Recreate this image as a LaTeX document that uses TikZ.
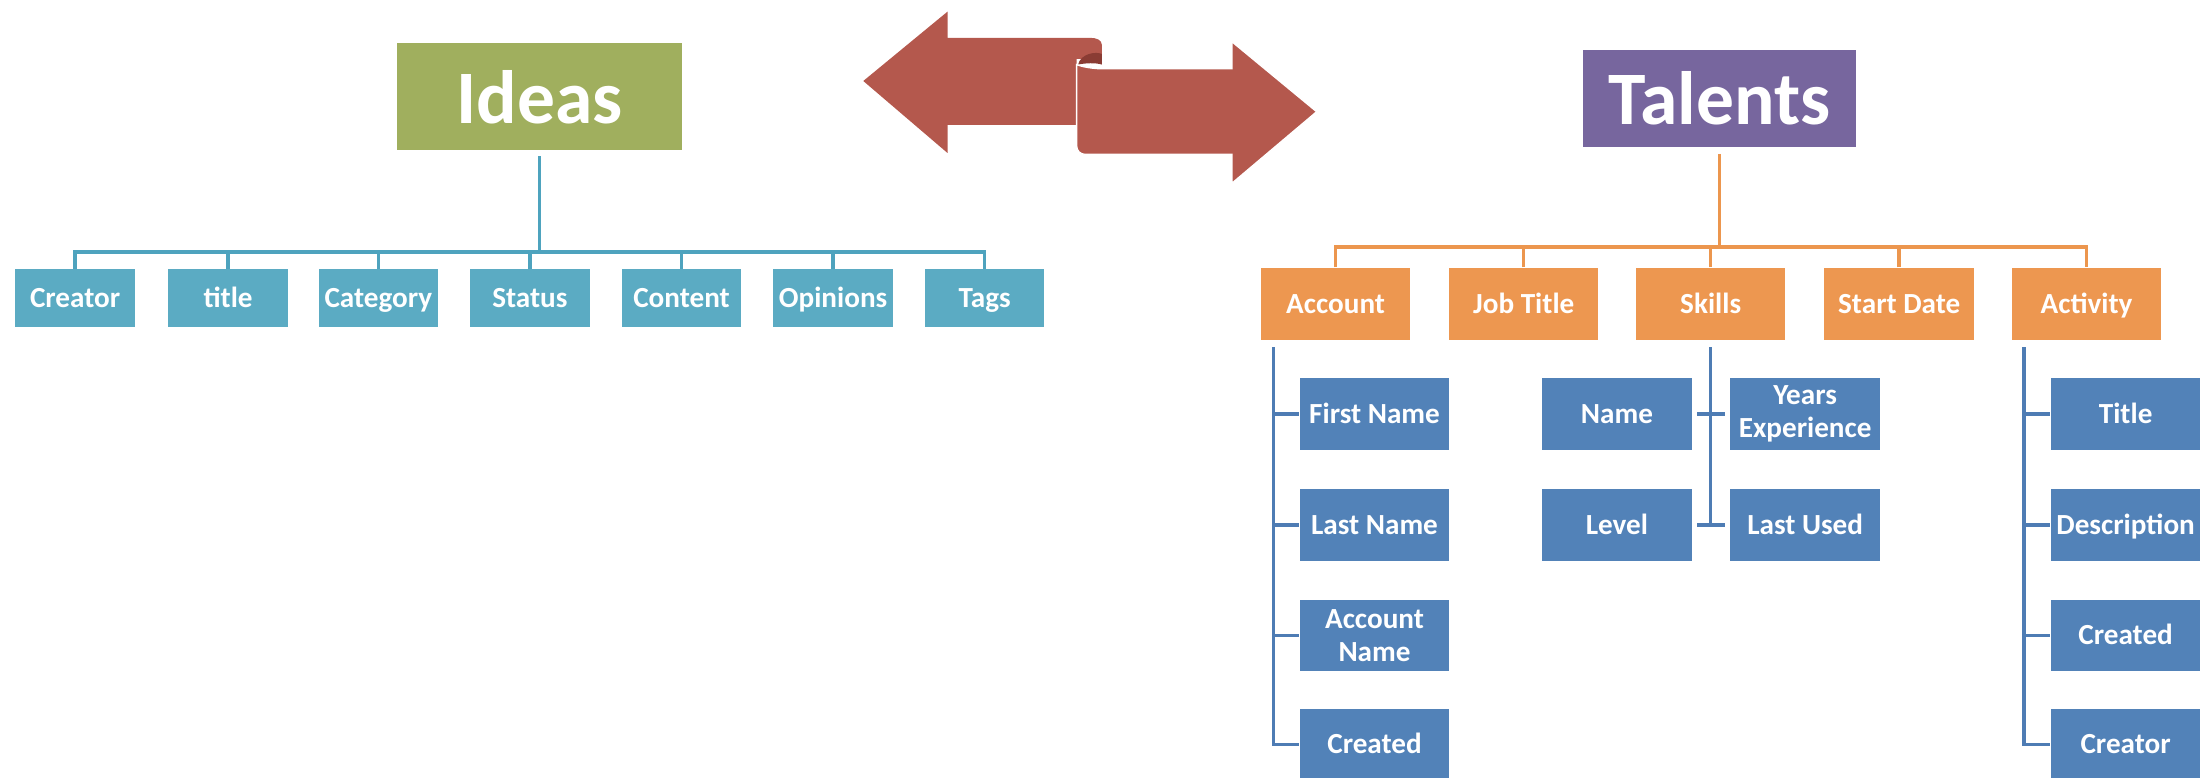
\documentclass[tikz,border=0pt]{standalone}
\usepackage{fontspec}
\setmainfont{Carlito}
\usetikzlibrary{calc}
\definecolor{ideasc}{RGB}{160,175,94}
\definecolor{tealc}{RGB}{91,171,195}
\definecolor{teall}{RGB}{78,163,190}
\definecolor{purplec}{RGB}{119,102,158}
\definecolor{orangec}{RGB}{237,151,80}
\definecolor{orangel}{RGB}{236,150,78}
\definecolor{bluec}{RGB}{82,130,184}
\definecolor{bluel}{RGB}{78,124,180}
\definecolor{arrowred}{RGB}{180,88,77}
\definecolor{curlc}{RGB}{138,60,52}
\begin{document}
\begin{tikzpicture}[x=0.14037mm, y=-0.14037mm,
  box/.style={inner sep=0pt, align=center, text=white, text height=5.6pt, text depth=0.3pt, font=\fontsize{8.3}{9.5}\selectfont\bfseries},
  twoline/.style={text height=, text depth=},
  tealbox/.style={box, fill=tealc, minimum width=11.93mm, minimum height=5.76mm},
  orangebox/.style={box, fill=orangec, minimum width=14.95mm, minimum height=7.16mm},
  bluebox/.style={box, fill=bluec, minimum width=14.95mm, minimum height=7.16mm},
  titlebox/.style={inner sep=0pt, text=white, font=\fontsize{21.5}{24}\selectfont\bfseries},
  tconn/.style={draw=teall, line width=0.35mm},
  oconn/.style={draw=orangel, line width=0.35mm},
  bconn/.style={draw=bluel, line width=0.35mm},
]
\useasboundingbox (0,0) rectangle (1568,554);

% ---------- Ideas ----------
\node[titlebox, fill=ideasc, minimum width=28.5mm, minimum height=10.67mm] (ideas) at (384.5,69) {Ideas};
\node[tealbox] (creator)  at (53.5,212.5) {Creator};
\node[tealbox] (title)    at (162.5,212.5) {title};
\node[tealbox] (category) at (269.5,212.5) {Category};
\node[tealbox] (status)   at (377.5,212.5) {Status};
\node[tealbox] (content)  at (485.5,212.5) {Content};
\node[tealbox] (opinions) at (593.5,212.5) {Opinions};
\node[tealbox] (tags)     at (701.5,212.5) {Tags};
\coordinate (ibar) at (0,179.5);
\draw[tconn, shorten <=0.55mm] (ideas.south) -- (ideas.south |- ibar);
\draw[tconn] (creator.north) -- (creator.north |- ibar) -- (tags.north |- ibar) -- (tags.north);
\foreach \n in {title,category,status,content,opinions}
  \draw[tconn] (\n.north) -- (\n.north |- ibar);

% ---------- Arrows ----------
\fill[arrowred] (615,57.7) -- (675,8.3) -- (675,27) -- (777,27)
  to[out=0,in=90] (785,32) -- (785,42) -- (767,42) -- (767,89) -- (675,89) -- (675,109) -- cycle;
\fill[curlc] (768,46) .. controls (770,38) and (781,36.5) .. (785,38.5)
  -- (785,46) .. controls (780,44.5) and (773,45) .. (768,46) -- cycle;
\filldraw[fill=arrowred, draw=white, line width=0.4pt]
  (767,46) .. controls (772,48) and (780,49) .. (786,49) -- (877.6,49) -- (877.6,29.7) -- (938,79.6) -- (877.6,130.6) -- (877.6,110)
  -- (773,110) to[out=180,in=-90] (767,104) -- cycle;

% ---------- Talents ----------
\node[titlebox, fill=purplec, minimum width=27.23mm, minimum height=9.69mm] (talents) at (1225,70) {Talents};
\node[orangebox] (account)   at (951.5,216.5) {Account};
\node[orangebox] (jobtitle)  at (1085.5,216.5) {Job Title};
\node[orangebox] (skills)    at (1218.7,216.5) {Skills};
\node[orangebox] (startdate) at (1353,216.5) {Start Date};
\node[orangebox] (activity)  at (1486.5,216.5) {Activity};
\coordinate (tbar) at (0,176);
\draw[oconn, shorten <=0.65mm] (talents.south) -- (talents.south |- tbar);
\draw[oconn] (account.north) -- (account.north |- tbar) -- (activity.north |- tbar) -- (activity.north);
\foreach \n in {jobtitle,skills,startdate}
  \draw[oconn] (\n.north) -- (\n.north |- tbar);

% ---------- Account children ----------
\node[bluebox] (firstname) at (979.2,295) {First Name};
\node[bluebox] (lastname)  at (979.2,374) {Last Name};
\node[bluebox, twoline] (accname) at (979.2,452.7) {Account\\Name};
\node[bluebox] (acreated)  at (979.2,530.5) {Created};
\coordinate (av) at (907.4,0);
\draw[bconn, shorten <=0.7mm] (account.south -| av) -- (av |- acreated.west) -- (acreated.west);
\foreach \n in {firstname,lastname,accname}
  \draw[bconn] (av |- \n.west) -- (\n.west);

% ---------- Skills children ----------
\node[bluebox] (sname)     at (1151.9,295) {Name};
\node[bluebox, twoline] (yearsexp) at (1286,295) {Years\\Experience};
\node[bluebox] (level)     at (1151.9,374) {Level};
\node[bluebox] (lastused)  at (1286,374) {Last Used};
\draw[bconn, shorten <=0.7mm] (skills.south) -- (skills.south |- level.east);
\draw[bconn, shorten <=0.5mm, shorten >=0.5mm] (sname.east) -- (yearsexp.west);
\draw[bconn, shorten <=0.5mm, shorten >=0.5mm] (level.east) -- (lastused.west);

% ---------- Activity children ----------
\node[bluebox] (atitle)    at (1514.3,295) {Title};
\node[bluebox] (adesc)     at (1514.3,374) {Description};
\node[bluebox] (acreated2) at (1514.3,452.7) {Created};
\node[bluebox] (acreator)  at (1514.3,530.5) {Creator};
\coordinate (actv) at (1442,0);
\draw[bconn, shorten <=0.7mm] (activity.south -| actv) -- (actv |- acreator.west) -- (acreator.west);
\foreach \n in {atitle,adesc,acreated2}
  \draw[bconn] (actv |- \n.west) -- (\n.west);
\end{tikzpicture}
\end{document}
